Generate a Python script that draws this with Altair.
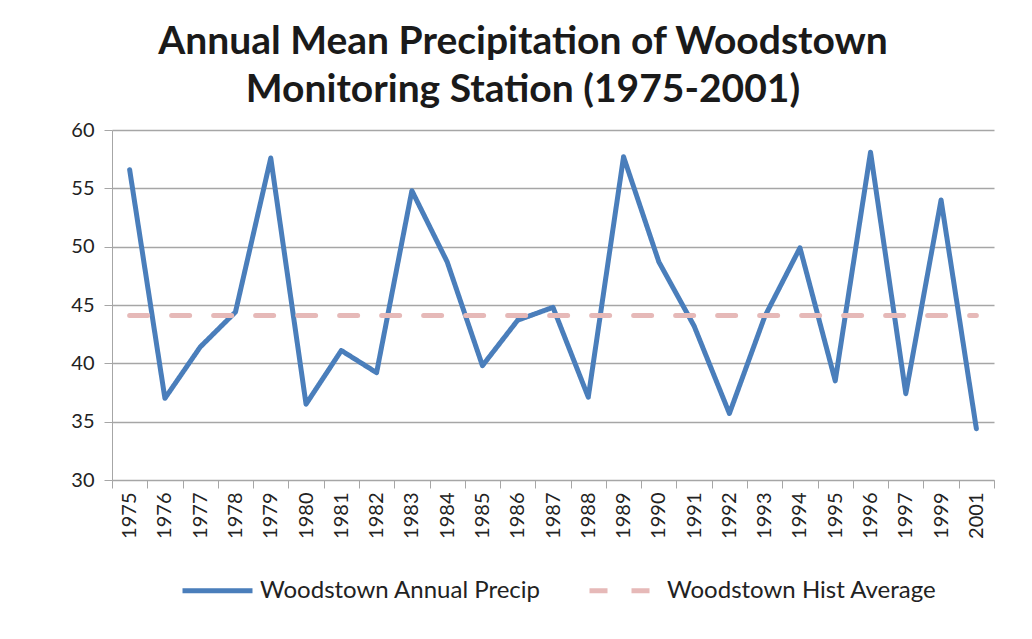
import altair as alt
import pandas as pd

years = ["1975", "1976", "1977", "1978", "1979", "1980", "1981", "1982", "1983",
         "1984", "1985", "1986", "1987", "1988", "1989", "1990", "1991", "1992",
         "1993", "1994", "1995", "1996", "1997", "1999", "2001"]
annual_precip = [56.6, 37.0, 41.4, 44.4, 57.6, 36.5, 41.1, 39.2, 54.8,
                 48.7, 39.8, 43.7, 44.8, 37.1, 57.7, 48.7, 43.2, 35.7,
                 44.0, 49.9, 38.5, 58.1, 37.4, 54.0, 34.4]
hist_average = [44.1] * len(years)
series_names = ["Woodstown Annual Precip", "Woodstown Hist Average"]
series_colors = ["#4A7EBB", "#E6B9B8"]

df = pd.concat([
    pd.DataFrame({"year": years, "value": annual_precip, "series": series_names[0]}),
    pd.DataFrame({"year": years, "value": hist_average, "series": series_names[1]}),
])

FONT = "Lato"

chart = alt.Chart(df).mark_line(strokeWidth=5, strokeCap="round", strokeJoin="round").encode(
    x=alt.X("year:O", sort=years, title=None,
            scale=alt.Scale(type="band", paddingInner=0, paddingOuter=0),
            axis=alt.Axis(labelAngle=270, tickBand="extent", tickSize=8,
                          labelPadding=4, labelFontSize=20, labelColor="#222222",
                          domainColor="#A6A6A6", tickColor="#A6A6A6", grid=False,
                          labelFont=FONT)),
    y=alt.Y("value:Q", title=None,
            scale=alt.Scale(domain=[30, 60], nice=False, zero=False),
            axis=alt.Axis(values=[30, 35, 40, 45, 50, 55, 60], tickSize=8,
                          labelPadding=10, labelFontSize=20, labelColor="#222222",
                          domainColor="#A6A6A6", tickColor="#A6A6A6",
                          gridColor="#A6A6A6", gridWidth=1.5, labelFont=FONT)),
    color=alt.Color("series:N", sort=series_names,
                    scale=alt.Scale(domain=series_names, range=series_colors),
                    legend=alt.Legend(title=None, orient="none", direction="horizontal",
                                      legendX=68, legendY=423, symbolType="stroke",
                                      symbolSize=4900, symbolStrokeWidth=5,
                                      labelFontSize=24, labelFont=FONT, labelColor="#222222",
                                      columnPadding=38, labelOffset=5, labelLimit=400,
                                      padding=0)),
    strokeDash=alt.StrokeDash("series:N", sort=series_names,
                              scale=alt.Scale(domain=series_names, range=[[1, 0], [18, 24]]),
                              legend=None),
    order=alt.Order("series:N"),
).properties(
    width=882,
    height=350,
    background="white",
    padding={"left": 104, "top": 122, "right": 30, "bottom": 150},
    autosize=alt.AutoSizeParams(type="none"),
    title=alt.TitleParams(
        ["Annual Mean Precipitation of Woodstown", "Monitoring Station (1975-2001)"],
        anchor="middle", font=FONT, fontSize=39, fontWeight="bold", color="#1A1A1A",
        lineHeight=48, offset=10, dx=-30,
    ),
).configure_view(stroke=None)

chart.save("out.html", embed_options={"renderer": "svg", "actions": False})
